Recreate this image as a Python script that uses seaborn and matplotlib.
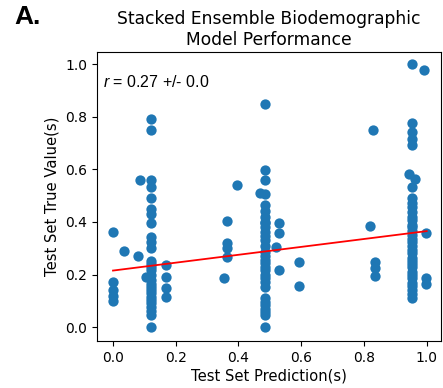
import matplotlib
matplotlib.use("Agg")
import matplotlib.pyplot as plt
import seaborn as sns
import numpy as np
import pandas as pd

# ---- data ----
col0_x = [0.0, 0.0, 0.0, 0.0, 0.0, 0.035, 0.08, 0.086]
col0_y = [0.36, 0.17, 0.14, 0.12, 0.10, 0.29, 0.27, 0.56]

col1_x = [0.121] * 28 + [0.105, 0.169, 0.169, 0.169, 0.169]
col1_y = [0.79, 0.75, 0.56, 0.533, 0.49, 0.45, 0.43, 0.394, 0.343, 0.324,
          0.299, 0.252, 0.24, 0.23, 0.217, 0.20, 0.179, 0.165, 0.153, 0.14,
          0.128, 0.115, 0.103, 0.09, 0.077, 0.06, 0.046, 0.001,
          0.19, 0.238, 0.19, 0.147, 0.113]

col2_x = [0.364, 0.364, 0.364, 0.364, 0.353, 0.396, 0.468]
col2_y = [0.404, 0.32, 0.30, 0.267, 0.188, 0.54, 0.508]

col3_x = [0.486] * 31 + [0.529, 0.529, 0.529, 0.521, 0.592, 0.592]
col3_y = [0.848, 0.597, 0.56, 0.505, 0.464, 0.44, 0.42, 0.40, 0.394, 0.38,
          0.362, 0.345, 0.33, 0.31, 0.286, 0.27, 0.255, 0.242, 0.23, 0.217,
          0.20, 0.185, 0.17, 0.153, 0.109, 0.095, 0.084, 0.07, 0.058, 0.046,
          0.001,
          0.397, 0.359, 0.217, 0.303, 0.246, 0.157]

col4_x = [0.829, 0.82, 0.835, 0.835, 0.835]
col4_y = [0.75, 0.384, 0.248, 0.223, 0.194]

col5_x = [0.953] * 5 + [0.944, 0.962] + [0.953] * 28 + [0.991, 0.999, 0.999, 0.999]
col5_y = [1.0, 0.777, 0.743, 0.717, 0.692, 0.584, 0.565,
          0.533, 0.489, 0.47, 0.457, 0.438, 0.42, 0.407, 0.39, 0.381, 0.365,
          0.35, 0.335, 0.324, 0.31, 0.293, 0.28, 0.261, 0.25, 0.24, 0.229,
          0.21, 0.20, 0.185, 0.166, 0.155, 0.141, 0.125, 0.109,
          0.977, 0.359, 0.188, 0.163]

# regression line
fit_x = [0.0, 1.0]
fit_y = [0.215, 0.365]

pred = col0_x + col1_x + col2_x + col3_x + col4_x + col5_x
true = col0_y + col1_y + col2_y + col3_y + col4_y + col5_y
df = pd.DataFrame({"pred": pred, "true": true})
fit_df = pd.DataFrame({"x": fit_x, "y": fit_y})

title = "Stacked Ensemble Biodemographic\nModel Performance"
xlabel = "Test Set Prediction(s)"
ylabel = "Test Set True Value(s)"
annot = "$r$ = 0.27 +/- 0.0"
panel = "A."
xticks = [0.0, 0.2, 0.4, 0.6, 0.8, 1.0]
yticks = [0.0, 0.2, 0.4, 0.6, 0.8, 1.0]

plt.rcParams["mathtext.fontset"] = "custom"
plt.rcParams["mathtext.it"] = "Liberation Sans:italic"
plt.rcParams["mathtext.rm"] = "Liberation Sans"

fig = plt.figure(figsize=(4.43, 3.88), dpi=100)
ax = fig.add_axes([0.219, 0.121, 0.776, 0.745])
sns.scatterplot(data=df, x="pred", y="true", ax=ax, s=55, color="#1f77b4",
                linewidth=0, alpha=1, legend=False)
sns.lineplot(data=fit_df, x="x", y="y", ax=ax, color="red", lw=1.3)
ax.set_xticks(xticks)
ax.set_yticks(yticks)
ax.set_xlim(-0.051, 1.045)
ax.set_ylim(-0.053, 1.046)
ax.tick_params(labelsize=10)
ax.set_xlabel(xlabel, fontsize=10.6, labelpad=3)
ax.set_ylabel(ylabel, fontsize=10.6)
ax.set_title(title, fontsize=12.3, pad=5)
ax.text(0.017, 0.879, annot, transform=ax.transAxes, fontsize=11.5,
        family="Liberation Sans", va="baseline")
fig.text(0.032, 0.988, panel, fontsize=19, fontweight="bold",
         family="Liberation Sans", va="top")
fig.savefig("out.png", dpi=100)
